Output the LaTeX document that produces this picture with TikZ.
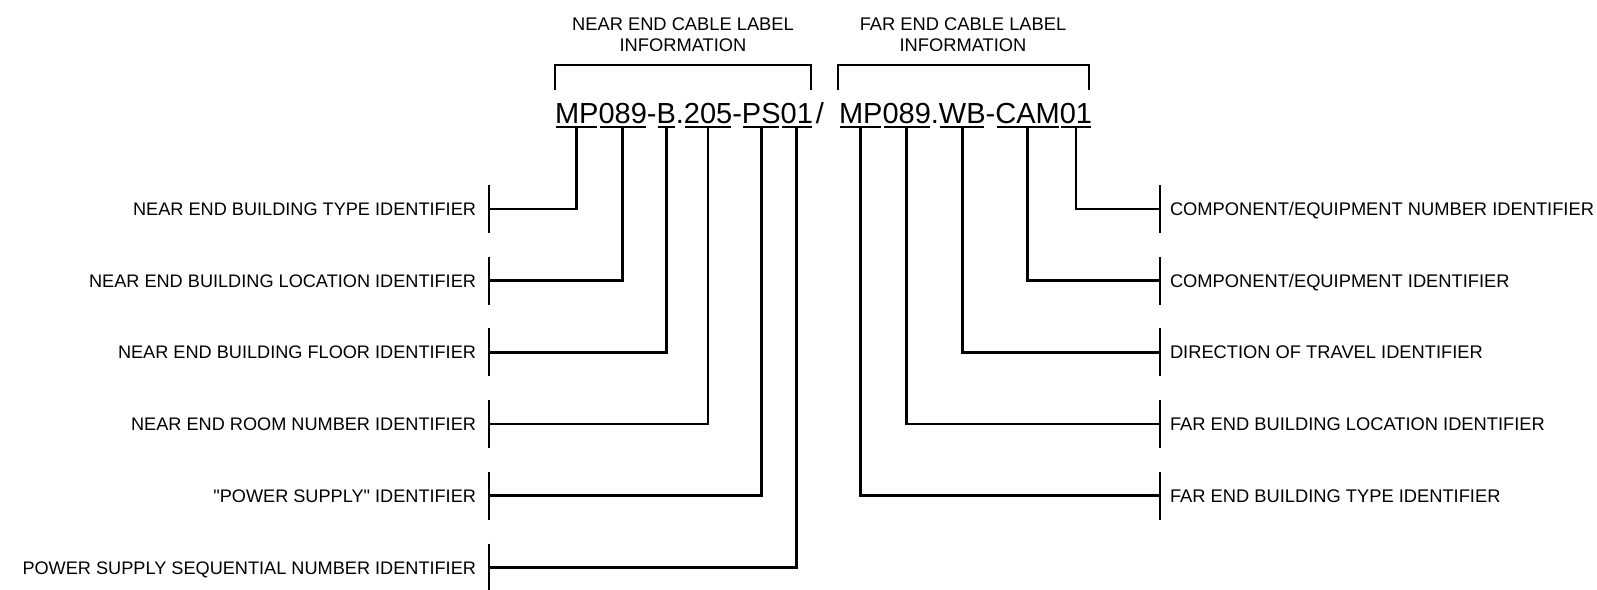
\documentclass[tikz,border=0pt]{standalone}
\usepackage{fontspec}
\setmainfont{Liberation Sans}[Ligatures=TeXOff]
\usetikzlibrary{calc}
\begin{document}
\begin{tikzpicture}[x=1pt,y=1pt,
  code/.style={font=\fontsize{29}{29}\selectfont, inner sep=0pt, outer sep=0pt, anchor=base west},
  lbl/.style={font=\fontsize{18.3}{21}\selectfont, inner sep=0pt, outer sep=0pt},
  lbll/.style={lbl, font=\fontsize{18.15}{21}\selectfont},
  ln/.style={line width=2.7pt, line join=miter},
  ul/.style={line width=1.9pt},
  barln/.style={line width=2.9pt}]
\useasboundingbox (0,0) rectangle (1597,-589);
% code text, near end
\node[code] (n1) at (555,-123) {MP};
\node[code] (n2) at (n1.base east) {089};
\node[code] (n3) at (n2.base east) {-};
\node[code] (n4) at (n3.base east) {B};
\node[code] (n5) at (n4.base east) {.};
\node[code] (n6) at (n5.base east) {205};
\node[code] (n7) at (n6.base east) {-};
\node[code] (n8) at (n7.base east) {PS};
\node[code] (n9) at (n8.base east) {01};
\node[code] (n10) at ($(n9.base east)+(3,0)$) {/};
% code text, far end
\node[code] (f1) at (839,-123) {MP};
\node[code] (f2) at (f1.base east) {089};
\node[code] (f3) at (f2.base east) {.};
\node[code] (f4) at (f3.base east) {WB};
\node[code] (f5) at (f4.base east) {-};
\node[code] (f6) at (f5.base east) {CAM};
\node[code] (f7) at (f6.base east) {01};
% underlines
\foreach \s in {n1,n2,n4,n6,n8,n9,f1,f2,f4,f6,f7}{
  \draw[ul] ($(\s.base west)+(1.2,-4)$) -- ($(\s.base east)+(-1.2,-4)$);
  \coordinate (\s u) at ($(\s.base)+(0,-4)$);
}
% top brackets and titles
\draw[ln] (555,-90) |- (811,-65) -- (811,-90);
\draw[ln] (838,-90) |- (1089,-65) -- (1089,-90);
\node[lbl, anchor=base] (nt1) at (683,-30.7) {NEAR END CABLE LABEL};
\node[lbl, anchor=base] (nt2) at (683,-51.7) {INFORMATION};
\node[lbl, anchor=base] (ft1) at (963,-30.7) {FAR END CABLE LABEL};
\node[lbl, anchor=base] (ft2) at (963,-51.7) {INFORMATION};
% left rows
\foreach \i/\y/\s/\t in {
  1/209/n1/{NEAR END BUILDING TYPE IDENTIFIER},
  2/280.7/n2/{NEAR END BUILDING LOCATION IDENTIFIER},
  3/352.4/n4/{NEAR END BUILDING FLOOR IDENTIFIER},
  4/424/n6/{NEAR END ROOM NUMBER IDENTIFIER},
  5/495.8/n8/{"POWER SUPPLY" IDENTIFIER},
  6/567.5/n9/{POWER SUPPLY SEQUENTIAL NUMBER IDENTIFIER}}{
  \coordinate (L\i) at (489,-\y);
  \draw[barln] ($(L\i)+(0,24)$) -- ($(L\i)+(0,-24)$);
  \draw[ln] (\s u) |- (L\i);
  \node[lbll, anchor=base east] (lt\i) at ($(L\i)+(-13,-6.5)$) {\t};
}
% right rows
\foreach \i/\y/\s/\t in {
  1/209/f7/{COMPONENT/EQUIPMENT NUMBER IDENTIFIER},
  2/280.7/f6/{COMPONENT/EQUIPMENT IDENTIFIER},
  3/352.4/f4/{DIRECTION OF TRAVEL IDENTIFIER},
  4/424/f2/{FAR END BUILDING LOCATION IDENTIFIER},
  5/495.8/f1/{FAR END BUILDING TYPE IDENTIFIER}}{
  \coordinate (R\i) at (1160,-\y);
  \draw[barln] ($(R\i)+(0,24)$) -- ($(R\i)+(0,-24)$);
  \draw[ln] (\s u) |- (R\i);
  \node[lbl, anchor=base west] (rt\i) at ($(R\i)+(10,-6.5)$) {\t};
}
\end{tikzpicture}
\end{document}
